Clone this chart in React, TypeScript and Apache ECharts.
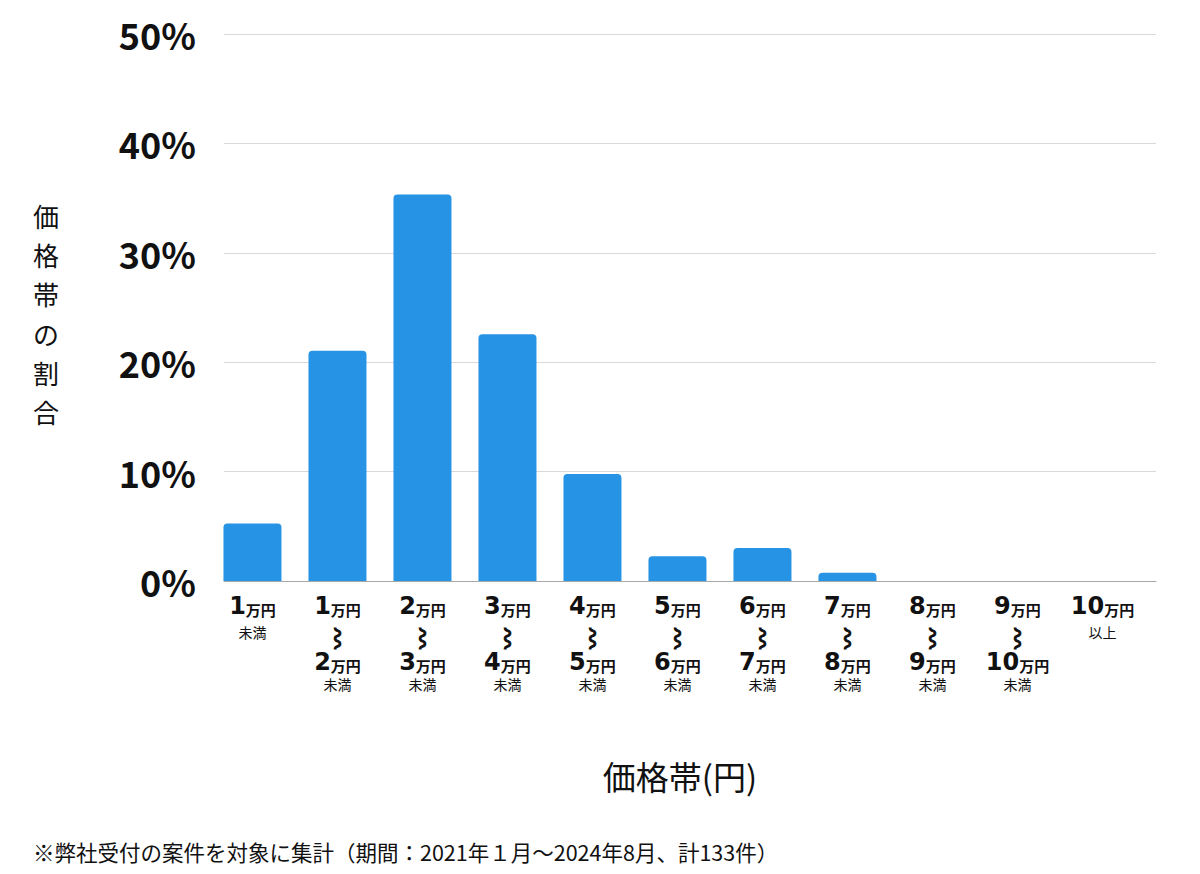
import { useEffect, useRef } from "react";
import * as echarts from "echarts";

// price bands (万円): lower and upper bound of each band, "" = open ended
const bandStarts = ["", "1", "2", "3", "4", "5", "6", "7", "8", "9", "10"];
const bandEnds = ["1", "2", "3", "4", "5", "6", "7", "8", "9", "10", ""];
// share of cases in each band (%)
const shares = [5.26, 21.05, 35.34, 22.56, 9.77, 2.26, 3.01, 0.75, 0, 0, 0];
const yTicks = [0, 10, 20, 30, 40, 50];

const yAxisTitle = "価格帯の割合";
const xAxisTitle = "価格帯(円)";
const footnote = "※弊社受付の案件を対象に集計（期間：2021年１月〜2024年8月、計133件）";

const FONT = '"Noto Sans CJK JP", "Noto Sans", sans-serif';
const DIGIT_FONT = '"DejaVu Sans", sans-serif';
const BLUE = "#2693e5";

export default function App() {
  const chartRef = useRef<HTMLDivElement>(null);

  useEffect(() => {
    if (!chartRef.current) return;
    const chart = echarts.init(chartRef.current, null, { renderer: "svg" });

    const bandLabel = (i: number) => {
      const start = bandStarts[i];
      const end = bandEnds[i];
      if (!start) return `{n|${end}}{u|万円}\n{s1|未満}`;
      if (!end) return `{n|${start}}{u|万円}\n{s1|以上}`;
      return `{n|${start}}{u|万円}\n{w|⌇}\n{n2|${end}}{u2|万円}\n{s|未満}`;
    };

    const digit = { fontSize: 24, fontWeight: "bold", fontFamily: DIGIT_FONT, color: "#111" };
    const unit = {
      fontSize: 15,
      fontWeight: "bold",
      fontFamily: FONT,
      color: "#111",
    };

    chart.setOption({
      animation: false,
      backgroundColor: "#ffffff",
      textStyle: { fontFamily: FONT },
      grid: {
        left: 224,
        right: 44,
        top: 34,
        bottom: 874 - 581,
      },
      xAxis: {
        type: "value",
        min: -0.335,
        max: 10.63,
        axisLine: { show: true, onZero: true, lineStyle: { color: "#a8a8a8", width: 1 } },
        axisTick: { show: false },
        splitLine: { show: false },
        axisLabel: {
          customValues: bandStarts.map((_, i) => i),
          margin: 8,
          color: "#111",
          fontFamily: FONT,
          formatter: (v: number) => bandLabel(Math.round(v)),
          rich: {
            n: { ...digit, lineHeight: 34 },
            u: { ...unit, lineHeight: 16, padding: [6, 0, 0, 0] },
            n2: { ...digit, lineHeight: 24 },
            u2: { ...unit, lineHeight: 16, padding: [7, 0, 0, 0] },
            w: {
              fontSize: 21,
              fontWeight: "bold",
              lineHeight: 27,
              fontFamily: FONT,
              color: "#111",
              textBorderColor: "#111",
              textBorderWidth: 1.2,
            },
            s: { fontSize: 14, lineHeight: 19, fontFamily: FONT, color: "#111" },
            s1: { fontSize: 14, lineHeight: 17, fontFamily: FONT, color: "#111" },
          },
        },
      },
      yAxis: {
        type: "value",
        min: yTicks[0],
        max: yTicks[yTicks.length - 1],
        interval: 10,
        axisLine: { show: false },
        axisTick: { show: false },
        splitLine: { show: true, lineStyle: { color: "#d9d9d9", width: 1 } },
        axisLabel: {
          margin: 28,
          fontSize: 36,
          fontWeight: "bold",
          color: "#111",
          fontFamily: FONT,
          formatter: "{value}%",
        },
      },
      graphic: [
        {
          type: "text",
          left: 33,
          top: 313.5 - (39.2 * 6) / 2,
          style: {
            text: yAxisTitle.split("").join("\n"),
            fontSize: 26,
            lineHeight: 39.2,
            fontFamily: FONT,
            fill: "#111",
            align: "center",
          },
        },
        {
          type: "text",
          x: 680,
          y: 776,
          style: {
            text: xAxisTitle,
            fontSize: 33,
            fontFamily: FONT,
            fill: "#111",
            align: "center",
            verticalAlign: "middle",
          },
        },
        {
          type: "text",
          x: 33,
          y: 851,
          style: {
            text: footnote,
            fontSize: 21.5,
            fontFamily: FONT,
            fill: "#111",
            align: "left",
            verticalAlign: "middle",
          },
        },
      ],
      series: [
        {
          type: "bar",
          barWidth: 58,
          data: shares.map((v, i) => [i, v]),
          itemStyle: { color: BLUE, borderRadius: [4, 4, 0, 0] },
        },
      ],
    });

    return () => {
      chart.dispose();
    };
  }, []);

  return (
    <div
      ref={chartRef}
      style={{ position: "fixed", left: 0, top: 0, width: 1200, height: 874 }}
    />
  );
}
